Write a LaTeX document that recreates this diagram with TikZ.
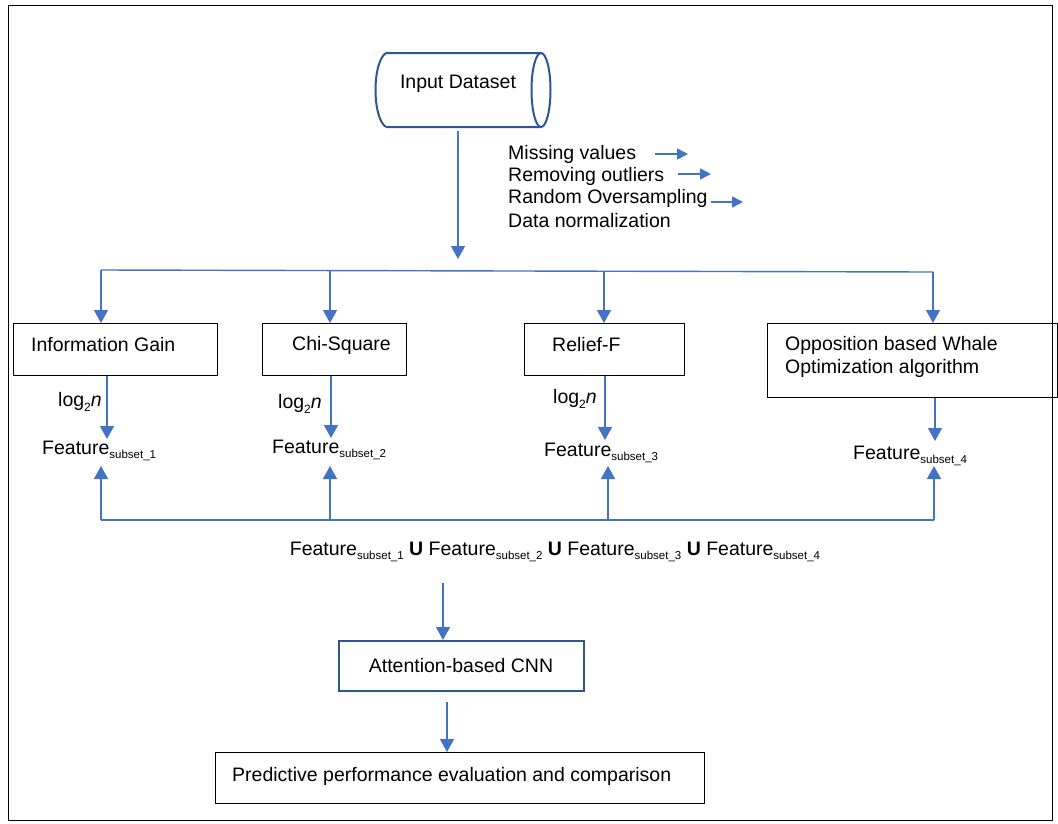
\documentclass[tikz,border=0pt]{standalone}
\usepackage{fontspec}
\setmainfont{Liberation Sans}
\usetikzlibrary{arrows.meta}
\definecolor{flow}{HTML}{4472C4}
\definecolor{deepblue}{HTML}{2F5597}
\newcommand{\sbs}[1]{\raisebox{-0.4ex}{\fontsize{11.5}{11.5}\selectfont #1}}
\newcommand{\logtwo}{log\raisebox{-0.45ex}{\fontsize{12}{12}\selectfont 2}\textit{n}}
\begin{document}
\begin{tikzpicture}[x=1pt,y=-1pt,
  every node/.style={font=\fontsize{19.5}{23.5}\selectfont, inner sep=0pt},
  arr/.style={draw=flow, line width=1.4pt, -{Triangle[width=14pt,length=13pt]}},
  link/.style={draw=flow, line width=1.4pt},
  small/.style={draw=flow, line width=1.4pt, -{Triangle[width=11pt,length=11pt]}},
  box/.style={draw=black, line width=1.4pt, anchor=north west},
  bluebox/.style={draw=deepblue, line width=2pt, anchor=north west},
  txt/.style={yshift=-2pt},
  lbl/.style={txt, anchor=west, align=left}]
\useasboundingbox (0,0) rectangle (1058,823);
\fill[white] (0,0) rectangle (1058,823);
% outer frame
\draw[line width=1pt] (8,5) rectangle (1052,820);

% input dataset cylinder
\node[minimum width=174pt, minimum height=74pt] (cyl) at (464,90) {};
\draw[deepblue, line width=2pt]
  (386,53) -- (541,53) (386,127) -- (541,127)
  (386,53) .. controls (372,62) and (372,118) .. (386,127);
\draw[deepblue, line width=2pt] (541,90) ellipse [x radius=9.5, y radius=37];
\node[txt] (intxt) at (458,82) {Input Dataset};

% preprocessing steps
\node[lbl] (pre1) at (508,152) {Missing values};
\node[lbl] (pre2) at (508,174) {Removing outliers};
\node[lbl] (pre3) at (508,196) {Random Oversampling};
\node[lbl] (pre4) at (508,219) {Data normalization};
\coordinate (s1a) at (655,154); \coordinate (s1b) at (688,154);
\coordinate (s2a) at (678,174); \coordinate (s2b) at (711,174);
\coordinate (s3a) at (711,202); \coordinate (s3b) at (743,202);
\draw[small] (s1a) -- (s1b);
\draw[small] (s2a) -- (s2b);
\draw[small] (s3a) -- (s3b);

% split into the four selectors
\coordinate (hub) at (458,259);
\draw[arr] ([yshift=-4pt]cyl.south -| hub) -- (hub);
\coordinate (t1) at (101,270);
\coordinate (t2) at (330,270);
\coordinate (t3) at (604,271);
\coordinate (t4) at (933,272);
\draw[link] (t1) -- (t4);

% selector boxes
\node[box, minimum width=204pt, minimum height=52pt] (b1) at (13,323) {};
\node[lbl] (b1t) at (31,343) {Information Gain};
\node[box, minimum width=144pt, minimum height=52pt] (b2) at (262,323) {};
\node[lbl] (b2t) at (292,343) {Chi-Square};
\node[box, minimum width=160pt, minimum height=52pt] (b3) at (524,323) {};
\node[lbl] (b3t) at (552,343) {Relief-F};
\node[box, minimum width=290pt, minimum height=74pt] (b4) at (767,323) {};
\node[lbl] (b4t) at (785,355) {Opposition based Whale\\Optimization algorithm};

\draw[arr] (t1) -- (t1 |- b1.north);
\draw[arr] (t2) -- (t2 |- b2.north);
\draw[arr] (t3) -- (t3 |- b3.north);
\draw[arr] (t4) -- (t4 |- b4.north);

% selected subsets
\node[lbl] (f1) at (42,449) {Feature\sbs{subset\_1}};
\node[lbl] (f2) at (272,448) {Feature\sbs{subset\_2}};
\node[lbl] (f3) at (544,451) {Feature\sbs{subset\_3}};
\node[lbl] (f4) at (853,454) {Feature\sbs{subset\_4}};
\node[lbl] (g1) at (58,400) {\logtwo};
\node[lbl] (g2) at (278,402) {\logtwo};
\node[lbl] (g3) at (553,397) {\logtwo};

\coordinate (d1) at (107,439);
\coordinate (d2) at (331,438);
\coordinate (d3) at (605,440);
\coordinate (d4) at (935,441);
\draw[arr] (b1.south -| d1) -- (d1);
\draw[arr] (b2.south -| d2) -- (d2);
\draw[arr] (b3.south -| d3) -- (d3);
\draw[arr] (b4.south -| d4) -- (d4);

% gathering line and union
\coordinate (u1) at (101,520);
\coordinate (u2) at (330,520);
\coordinate (u3) at (608,520);
\coordinate (u4) at (934,520);
\draw[link] (u1) -- (u4);
\draw[arr] (u1) -- (u1 |- 0,466);
\draw[arr] (u2) -- (u2 |- 0,466);
\draw[arr] (u3) -- (u3 |- 0,466);
\draw[arr] (u4) -- (u4 |- 0,466);

\node[txt] (union) at (555,550) {Feature\sbs{subset\_1} \textbf{U} Feature\sbs{subset\_2} \textbf{U} Feature\sbs{subset\_3} \textbf{U} Feature\sbs{subset\_4}};

% classifier and evaluation
\node[bluebox, minimum width=245pt, minimum height=50pt] (cnn) at (338,640) {};
\node[txt] (cnnt) at (461,664) {Attention-based CNN};
\draw[arr] (union.south -| 443,0) ++(0,21) -- (cnn.north -| 443,0);

\node[box, minimum width=489pt, minimum height=51pt] (eval) at (215,752) {};
\node[lbl] (evalt) at (232,774) {Predictive performance evaluation and comparison};
\draw[arr] ([yshift=-10pt]cnn.south -| 447,0) -- (eval.north -| 447,0);
\end{tikzpicture}
\end{document}
